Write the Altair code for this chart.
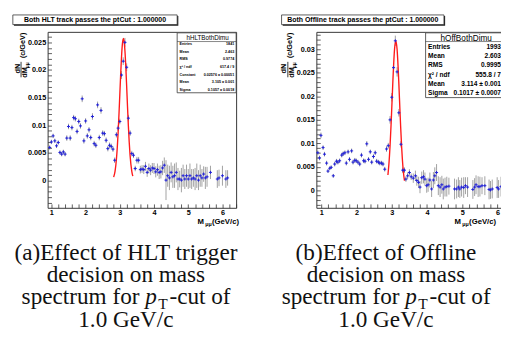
import altair as alt
import pandas as pd

# ---------------- data ----------------
# Left panel: HLT
hlt_mass = [0.95, 1.00, 1.05, 1.10, 1.15, 1.20, 1.25, 1.30, 1.35, 1.40,
            1.45, 1.50, 1.55, 1.60, 1.65, 1.70, 1.75, 1.80, 1.85, 1.90,
            1.95, 2.00, 2.05, 2.10, 2.15, 2.20, 2.25, 2.30, 2.35, 2.40,
            2.45, 2.50, 2.55, 2.60, 2.65, 2.70, 2.75, 2.80, 2.85, 2.90,
            2.95, 3.00, 3.05, 3.10, 3.15, 3.20, 3.25, 3.30, 3.35, 3.40,
            3.45, 3.50, 3.55, 3.60, 3.65, 3.70, 3.75, 3.80, 3.85, 3.90,
            3.95, 4.00, 4.05, 4.10, 4.15, 4.20, 4.25, 4.30, 4.35, 4.40,
            4.45, 4.50, 4.55, 4.60, 4.65, 4.70, 4.75, 4.80, 4.85, 4.90,
            4.95, 5.00, 5.05, 5.10, 5.15, 5.20, 5.25, 5.30, 5.35, 5.40,
            5.45, 5.50, 5.55, 5.65, 5.85, 5.90, 6.00, 6.10, 6.15]
hlt_val = [0.0060, 0.0070, 0.0081, 0.0072, 0.0063, 0.0069, 0.0051, 0.0048, 0.0052, 0.0048,
           0.0077, 0.0098, 0.0077, 0.0096, 0.0114, 0.0112, 0.0089, 0.0107, 0.0099, 0.0148,
           0.0072, 0.0108, 0.0081, 0.0092, 0.0078, 0.0116, 0.0067, 0.0064, 0.0137, 0.0078,
           0.0127, 0.0086, 0.0085, 0.0073, 0.0058, 0.0064, 0.0062, 0.0057, 0.0037, 0.0083,
           0.0095, 0.0107, 0.0191, 0.0216, 0.0250, 0.0205, 0.0113, 0.0086, 0.0049, 0.0046,
           0.0022, 0.0037, 0.0037, 0.0020, 0.0021, 0.0020, 0.0026, 0.0015, 0.0022, 0.0019,
           0.0023, 0.0022, 0.0016, 0.0020, 0.0015, 0.0016, 0.0023, 0.0028, 0.0001, 0.0009,
           0.0005, 0.0015, 0.0007, 0.0009, 0.0015, 0.0003, 0.0003, 0.0001, 0.0009, 0.0003,
           0.0009, 0.0003, 0.0009, 0.0003, 0.0005, 0.0003, 0.0009, 0.0001, 0.0009, 0.0005,
           0.0012, 0.0005, 0.0007, 0.0015, 0.0003, 0.0005, 0.0009, 0.0003, 0.0005]
hlt_err = [0.0004, 0.0004, 0.0004, 0.0004, 0.0004, 0.0004, 0.0004, 0.0004, 0.0004, 0.0004,
           0.0005, 0.0005, 0.0005, 0.0005, 0.0005, 0.0005, 0.0005, 0.0005, 0.0005, 0.0006,
           0.0005, 0.0005, 0.0005, 0.0005, 0.0005, 0.0006, 0.0005, 0.0005, 0.0006, 0.0005,
           0.0006, 0.0005, 0.0005, 0.0005, 0.0005, 0.0005, 0.0005, 0.0005, 0.0005, 0.0005,
           0.0005, 0.0005, 0.0007, 0.0007, 0.0008, 0.0007, 0.0006, 0.0005, 0.0005, 0.0005,
           0.0005, 0.0006, 0.0006, 0.0007, 0.0007, 0.0008, 0.0008, 0.0008, 0.0009, 0.0009,
           0.0009, 0.0010, 0.0010, 0.0011, 0.0012, 0.0012, 0.0013, 0.0014, 0.0036, 0.0020,
           0.0022, 0.0018, 0.0020, 0.0022, 0.0018, 0.0020, 0.0015, 0.0022, 0.0020, 0.0018,
           0.0020, 0.0018, 0.0022, 0.0018, 0.0016, 0.0020, 0.0022, 0.0018, 0.0020, 0.0016,
           0.0014, 0.0020, 0.0018, 0.0012, 0.0016, 0.0015, 0.0018, 0.0016, 0.0014]
hlt_fit_mass = [2.82, 2.86, 2.90, 2.925, 2.95, 2.975, 3.00, 3.025, 3.05, 3.075, 3.105,
                3.125, 3.15, 3.175, 3.20, 3.225, 3.25, 3.275, 3.30, 3.35, 3.38]
hlt_fit_val = [0.00065, 0.00169, 0.00382, 0.00592, 0.00864, 0.01195, 0.01559, 0.01922,
               0.0224, 0.02468, 0.0257, 0.02524, 0.02345, 0.02058, 0.01707, 0.01338,
               0.00991, 0.00694, 0.00458, 0.00169, 0.00083]

# Right panel: Offline
off_mass = [0.90, 0.95, 0.99, 1.05, 1.09, 1.15, 1.19, 1.24, 1.28, 1.34,
            1.38, 1.43, 1.47, 1.52, 1.58, 1.62, 1.67, 1.71, 1.76, 1.80,
            1.86, 1.90, 1.95, 1.99, 2.04, 2.09, 2.14, 2.20, 2.24, 2.29,
            2.34, 2.39, 2.43, 2.48, 2.53, 2.57, 2.62, 2.66, 2.71, 2.75,
            2.80, 2.85, 2.90, 2.95, 3.00, 3.05, 3.10, 3.15, 3.20, 3.26,
            3.31, 3.36, 3.40, 3.45, 3.50, 3.55, 3.61, 3.67, 3.71, 3.76,
            3.80, 3.85, 3.90, 3.94, 3.99, 4.03, 4.08, 4.13, 4.18, 4.22,
            4.27, 4.32, 4.37, 4.42, 4.46, 4.51, 4.56, 4.62, 4.78, 4.84,
            4.89, 4.93, 4.98, 5.04, 5.09, 5.15, 5.30, 5.35, 5.39, 5.45,
            5.50, 5.56, 5.64, 5.76, 5.80, 5.85, 5.99, 6.03, 6.10]
off_val = [0.0080, 0.0069, 0.0117, 0.0091, 0.0077, 0.0058, 0.0041, 0.0047, 0.0049, 0.0031,
           0.0056, 0.0062, 0.0060, 0.0063, 0.0075, 0.0078, 0.0080, 0.0058, 0.0082, 0.0066,
           0.0084, 0.0060, 0.0064, 0.0063, 0.0060, 0.0056, 0.0075, 0.0063, 0.0062, 0.0099,
           0.0066, 0.0082, 0.0060, 0.0072, 0.0080, 0.0062, 0.0060, 0.0058, 0.0058, 0.0056,
           0.0045, 0.0088, 0.0095, 0.0150, 0.0198, 0.0261, 0.0318, 0.0252, 0.0165, 0.0098,
           0.0043, 0.0043, 0.0024, 0.0031, 0.0038, 0.0029, 0.0026, 0.0031, 0.0021, 0.0017,
           0.0007, 0.0027, 0.0029, 0.0024, 0.0010, 0.0012, 0.0022, 0.0003, 0.0022, 0.0031,
           0.0038, 0.0010, 0.0007, 0.0012, 0.0003, 0.0007, 0.0008, 0.0009, 0.0003, 0.0003,
           0.0007, 0.0003, 0.0007, 0.0006, 0.0010, 0.0007, 0.0002, 0.0007, 0.0012, 0.0008,
           0.0008, 0.0010, 0.0010, 0.0002, 0.0001, 0.0003, 0.0006, 0.0003, 0.0008]
off_err = [0.0005, 0.0005, 0.0006, 0.0005, 0.0005, 0.0005, 0.0004, 0.0004, 0.0004, 0.0004,
           0.0005, 0.0005, 0.0005, 0.0005, 0.0005, 0.0005, 0.0005, 0.0005, 0.0005, 0.0005,
           0.0005, 0.0005, 0.0005, 0.0005, 0.0005, 0.0005, 0.0005, 0.0005, 0.0005, 0.0006,
           0.0005, 0.0005, 0.0005, 0.0005, 0.0005, 0.0005, 0.0005, 0.0005, 0.0005, 0.0005,
           0.0005, 0.0006, 0.0006, 0.0008, 0.0009, 0.0010, 0.0011, 0.0010, 0.0008, 0.0007,
           0.0006, 0.0006, 0.0006, 0.0007, 0.0007, 0.0007, 0.0010, 0.0011, 0.0011, 0.0012,
           0.0013, 0.0013, 0.0014, 0.0014, 0.0015, 0.0015, 0.0016, 0.0017, 0.0017, 0.0018,
           0.0018, 0.0020, 0.0021, 0.0019, 0.0022, 0.0020, 0.0021, 0.0018, 0.0022, 0.0020,
           0.0021, 0.0019, 0.0020, 0.0022, 0.0018, 0.0021, 0.0020, 0.0019, 0.0020, 0.0022,
           0.0021, 0.0018, 0.0020, 0.0021, 0.0019, 0.0020, 0.0022, 0.0019, 0.0021]
off_fit_mass = [2.89, 2.92, 2.95, 2.98, 3.00, 3.03, 3.05, 3.08, 3.114, 3.15, 3.18,
                3.20, 3.23, 3.25, 3.28, 3.30, 3.33, 3.36]
off_fit_val = [0.00327, 0.00577, 0.00939, 0.01408, 0.01764, 0.02309, 0.0264, 0.03018,
               0.0318, 0.0300, 0.0261, 0.02275, 0.01727, 0.01374, 0.00911, 0.00663,
               0.00383, 0.00205]

# axis ticks
x_ticks = [1.0, 1.2, 1.4, 1.6, 1.8, 2.0, 2.2, 2.4, 2.6, 2.8, 3.0, 3.2, 3.4, 3.6,
           3.8, 4.0, 4.2, 4.4, 4.6, 4.8, 5.0, 5.2, 5.4, 5.6, 5.8, 6.0, 6.2, 6.4]
hlt_y_ticks = [round(-0.004 + 0.001 * i, 3) for i in range(31)]
off_y_ticks = [round(-0.003 + 0.001 * i, 3) for i in range(37)]

# texts
hlt_title = "Both HLT track passes the ptCut : 1.000000"
off_title = "Both Offline track passes the ptCut : 1.000000"
hlt_hist = "hHLTBothDimu"
off_hist = "hOffBothDimu"
hlt_stat_labels = ["Entries", "Mean", "RMS", "χ² / ndf", "Constant", "Mean", "Sigma"]
hlt_stat_values = ["1841", "2.463", "0.9774", "617.4 / 9", "0.02576 ± 0.00051",
                   "3.105 ± 0.001", "0.1057 ± 0.0018"]
off_stat_labels = ["Entries", "Mean", "RMS", "χ² / ndf", "Mean", "Sigma"]
off_stat_values = ["1993", "2.603", "0.9995", "555.8 / 7", "3.114 ± 0.001",
                   "0.1017 ± 0.0007"]
hlt_caption = ["(a)Effect of HLT trigger", "decision on mass", None, "1.0 GeV/c"]
off_caption = ["(b)Effect of Offline", "decision on mass", None, "1.0 GeV/c"]
cap_line3 = ["spectrum for", "p", "T", "-cut of"]

SANS = "Liberation Sans"
SERIF = "Liberation Serif"
FRAME = "#333333"


def one():
    return pd.DataFrame({"k": [0]})


def txt(s, x, y, size, align="center", font=SANS, weight="bold", angle=0,
        baseline="middle", style="normal", color="black"):
    return alt.Chart(pd.DataFrame({"t": [s]})).mark_text(
        font=font, fontSize=size, fontWeight=weight, align=align,
        baseline=baseline, angle=angle, fontStyle=style, color=color
    ).encode(x=alt.value(x), y=alt.value(y), text="t:N")


def box(x1, x2, y1, y2, shadow=True):
    layers = []
    if shadow:
        layers.append(alt.Chart(one()).mark_rect(fill="#222222").encode(
            x=alt.value(x1 + 1.2), x2=alt.value(x2 + 1.2),
            y=alt.value(y1 + 1.2), y2=alt.value(y2 + 1.2)))
    layers.append(alt.Chart(one()).mark_rect(
        fill="white", stroke=FRAME, strokeWidth=0.8).encode(
        x=alt.value(x1), x2=alt.value(x2), y=alt.value(y1), y2=alt.value(y2)))
    return layers


def panel(mass, val, err, fmass, fval, xdom, ydom, yticks, width, height,
          title, tbox, hist, labels, values, sbox, caption, cap_c, p_x, xt, yt_dx):
    xs = alt.Scale(domain=xdom, nice=False, zero=False)
    ys = alt.Scale(domain=ydom, nice=False, zero=False)
    xaxis = alt.Axis(values=x_ticks, format="~g", title=None,
                     labelExpr="abs(datum.value - round(datum.value)) < 0.01 ? datum.label : ''",
                     tickSize=alt.ExprRef(expr="-4"), labelPadding=5,
                     labelOverlap=False, labelFlush=False)
    yaxis = alt.Axis(values=yticks, format="~g", title=None,
                     labelExpr="abs(datum.value * 200 - round(datum.value * 200)) < 0.01 ? datum.label : ''",
                     tickSize=alt.ExprRef(expr="-4"), labelPadding=6,
                     labelOverlap=False, labelFlush=False)
    df = pd.DataFrame({"m": mass, "v": val, "e": err})
    base = alt.Chart(df).transform_calculate(lo="datum.v - datum.e", hi="datum.v + datum.e")
    bars = base.mark_rule(color="#a0a0a0", strokeWidth=1).encode(
        x=alt.X("m:Q", scale=xs, axis=xaxis),
        y=alt.Y("lo:Q", scale=ys, axis=yaxis), y2="hi:Q")
    fit = alt.Chart(pd.DataFrame({"m": fmass, "v": fval})).mark_line(
        color="#ff1a1a", strokeWidth=1.4, interpolate="monotone").encode(
        x=alt.X("m:Q", scale=xs, axis=xaxis), y=alt.Y("v:Q", scale=ys, axis=yaxis))
    pts = base.mark_point(shape="M-1,0L1,0M0,-1L0,1", size=10, filled=False,
                          color="#2020d8", strokeWidth=1, opacity=1).encode(
        x=alt.X("m:Q", scale=xs, axis=xaxis), y=alt.Y("v:Q", scale=ys, axis=yaxis))
    layers = [bars, fit, pts]

    # title pave
    layers += box(tbox[0], tbox[1], -17.5, -7.5)
    layers.append(txt(title, (tbox[0] + tbox[1]) / 2, -12.5, 7.2))

    # stats box
    sx1, sx2, sy2, hsize, rtop, rstep, rsize = sbox
    layers += box(sx1, sx2, 1, sy2, shadow=False)
    layers.append(txt(hist, (sx1 + min(sx2, 195)) / 2 + 1, 6, hsize, weight="normal"))
    layers.append(alt.Chart(one()).mark_rule(color=FRAME, strokeWidth=0.6).encode(
        x=alt.value(sx1), x2=alt.value(sx2), y=alt.value(10)))
    sdf = pd.DataFrame({"lab": labels, "val": values,
                        "py": [rtop + i * rstep for i in range(len(labels))]})
    layers.append(alt.Chart(sdf).mark_text(font=SANS, fontSize=rsize, fontWeight="bold",
                                           align="left", baseline="middle").encode(
        x=alt.value(sx1 + 2.5), y=alt.Y("py:Q", scale=None, axis=None), text="lab:N"))
    layers.append(alt.Chart(sdf).mark_text(font=SANS, fontSize=rsize, fontWeight="bold",
                                           align="right", baseline="middle").encode(
        x=alt.value(xt[3]), y=alt.Y("py:Q", scale=None, axis=None), text="val:N"))

    # y-axis title (rotated fraction)
    layers.append(txt("dN", -31 + yt_dx, 38, 7.5, angle=270))
    layers.append(alt.Chart(one()).mark_rule(color="black", strokeWidth=0.8).encode(
        x=alt.value(-27.5 + yt_dx), y=alt.value(31), y2=alt.value(47)))
    layers.append(txt("dM", -23.5 + yt_dx, 42, 7.5, angle=270))
    layers.append(txt("μμ", -21.5 + yt_dx, 34.5, 5, angle=270))
    layers.append(txt("(c/GeV)", -25.5 + yt_dx, 14, 7.5, angle=270))

    # x-axis title
    layers.append(txt("M", xt[0], height + 15, 8, align="left"))
    layers.append(txt("μμ", xt[0] + 8, height + 17, 5.5, align="left"))
    layers.append(txt("(GeV/c)", xt[0] + 15, height + 15, 8, align="left"))

    # caption
    cap_col = "#111111"
    for i, line in enumerate(caption):
        if line is None:
            continue
        layers.append(txt(line, cap_c, 236 + 23 * i, 24, font=SERIF, weight="normal",
                          baseline="alphabetic", color=cap_col))
    yb = 236 + 23 * 2
    layers.append(txt(cap_line3[0], p_x - 6, yb, 24, align="right", font=SERIF,
                      weight="normal", baseline="alphabetic", color=cap_col))
    layers.append(txt(cap_line3[1], p_x, yb, 24, align="left", font=SERIF,
                      weight="normal", baseline="alphabetic", style="italic", color=cap_col))
    layers.append(txt(cap_line3[2], p_x + 13.5, yb + 5, 16, align="left", font=SERIF,
                      weight="normal", baseline="alphabetic", color=cap_col))
    layers.append(txt(cap_line3[3], p_x + 25, yb, 24, align="left", font=SERIF,
                      weight="normal", baseline="alphabetic", color=cap_col))

    return alt.layer(*layers).properties(width=width, height=height)


left = panel(hlt_mass, hlt_val, hlt_err, hlt_fit_mass, hlt_fit_val,
             [0.89, 6.4], [-0.0049, 0.0269], hlt_y_ticks, 195, 182,
             hlt_title, (-36, 134), hlt_hist, hlt_stat_labels, hlt_stat_values,
             (134, 195, 63, 6.5, 13, 7.8, 3.8), hlt_caption, 81, 101,
             (155, 0, 0, 193), 0)
right = panel(off_mass, off_val, off_err, off_fit_mass, off_fit_val,
              [0.86, 6.4], [-0.0037, 0.0337], off_y_ticks, 202, 182,
              off_title, (-36, 132), off_hist, off_stat_labels, off_stat_values,
              (113, 202, 68, 8.5, 15.7, 9.5, 6.8), off_caption, 72, 92,
              (143, 0, 0, 191), -2)

chart = alt.hconcat(left, right, spacing=41).properties(
    padding={"left": 4, "top": 0, "right": -12, "bottom": 0},
    background="white"
).configure_view(stroke=FRAME, strokeWidth=1).configure_axis(
    domain=False, grid=False, labelFont=SANS, labelFontWeight="bold",
    labelFontSize=7.5, labelColor="black", tickColor=FRAME, tickWidth=0.8)

chart.save("out.html", embed_options={"renderer": "svg", "actions": False})
